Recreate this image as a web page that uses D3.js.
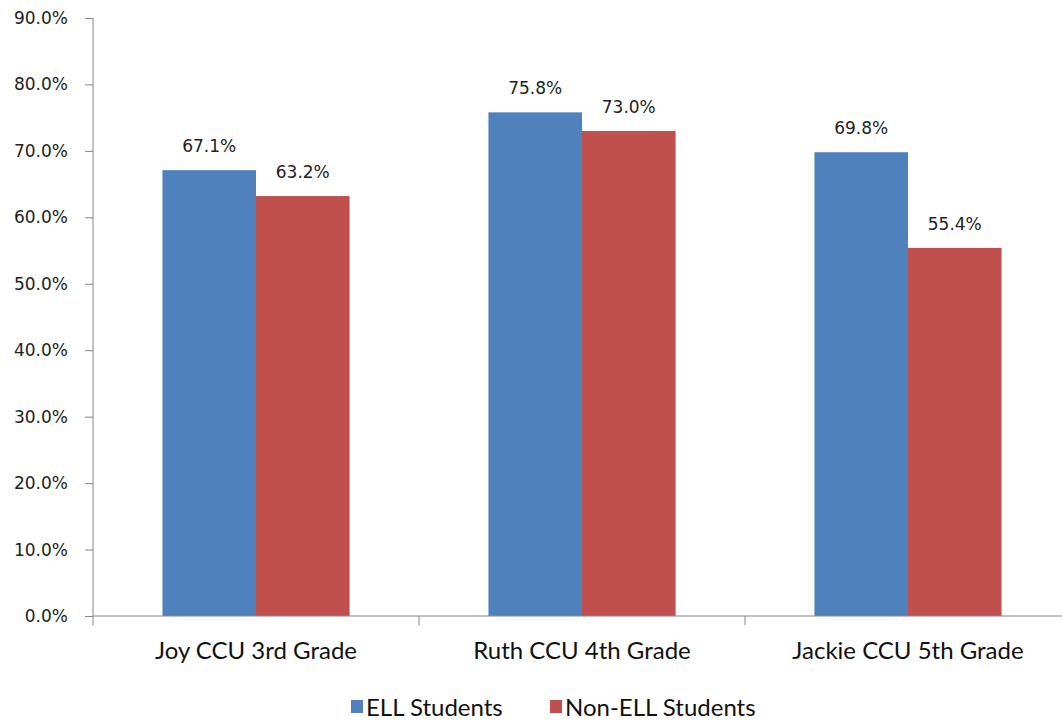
<!DOCTYPE html>
<html><head><meta charset="utf-8">
<script src="https://cdn.jsdelivr.net/npm/d3@7"></script>
<style>body{margin:0;background:#fff}svg{display:block}</style>
</head><body>
<script>
const categories = ["Joy CCU 3rd Grade", "Ruth CCU 4th Grade", "Jackie CCU 5th Grade"];
const seriesNames = ["ELL Students", "Non-ELL Students"];
const ellValues = [67.1, 75.8, 69.8];
const nonEllValues = [63.2, 73.0, 55.4];
const yTicks = [0, 10, 20, 30, 40, 50, 60, 70, 80, 90];
const colors = ["#4F81BD", "#C0504D"];

const W = 1062, H = 721;
const svg = d3.select("body").append("svg").attr("width", W).attr("height", H);

const x0 = d3.scaleBand().domain(categories).range([93, 1071]).paddingInner(0.426).paddingOuter(0.213);
const x1 = d3.scaleBand().domain(seriesNames).range([0, x0.bandwidth()]).padding(0);
const y = d3.scaleLinear().domain([0, 90]).range([616, 18]);

const data = categories.map((c, i) => ({cat: c, vals: [ellValues[i], nonEllValues[i]]}));
const catFont = "Lato";

// y axis
const yAxis = d3.axisLeft(y).tickValues(yTicks).tickSize(8).tickPadding(17).tickFormat(d => d.toFixed(1) + "%");
const gy = svg.append("g").attr("transform", "translate(93,0)").call(yAxis);
gy.select(".domain").attr("stroke", "#868686").attr("d", "M0,18V616");
gy.selectAll(".tick line").attr("stroke", "#868686");
gy.selectAll(".tick text").attr("font-family", "DejaVu Sans").attr("font-size", 17).attr("fill", "#222");

// bars
const g = svg.append("g");
data.forEach(d => {
  d.vals.forEach((v, j) => {
    const bx = x0(d.cat) + x1(seriesNames[j]);
    g.append("rect").attr("x", bx).attr("y", y(v)).attr("width", x1.bandwidth()).attr("height", y(0) - y(v)).attr("fill", colors[j]);
    g.append("text").attr("x", bx + x1.bandwidth() / 2).attr("y", y(v) - 18)
      .attr("text-anchor", "middle").attr("font-family", "DejaVu Sans").attr("font-size", 17).attr("fill", "#222")
      .text(v.toFixed(1) + "%");
  });
});

// x axis
const xAxisLine = svg.append("g");
xAxisLine.append("line").attr("x1", 93).attr("x2", 1071).attr("y1", y(0)).attr("y2", y(0)).attr("stroke", "#868686");
const bounds = [93].concat(categories.map(c => x0(c) - x0.step() * x0.paddingOuter() + x0.step()));
bounds.forEach(b => {
  xAxisLine.append("line").attr("x1", b).attr("x2", b).attr("y1", y(0)).attr("y2", y(0) + 9).attr("stroke", "#868686");
});
categories.forEach(c => {
  svg.append("text").attr("x", x0(c) + x0.bandwidth() / 2).attr("y", 659)
    .attr("text-anchor", "middle").attr("font-family", catFont).attr("font-size", 24)
    .attr("fill", "#111").text(c);
});

// legend
const legendItems = [{x: 351, name: seriesNames[0], c: colors[0]}, {x: 550, name: seriesNames[1], c: colors[1]}];
legendItems.forEach(l => {
  svg.append("rect").attr("x", l.x).attr("y", 700).attr("width", 12).attr("height", 13).attr("fill", l.c);
  svg.append("text").attr("x", l.x + 15).attr("y", 716).attr("font-family", catFont).attr("font-size", 24)
    .attr("fill", "#111").text(l.name);
});
</script>
</body></html>
